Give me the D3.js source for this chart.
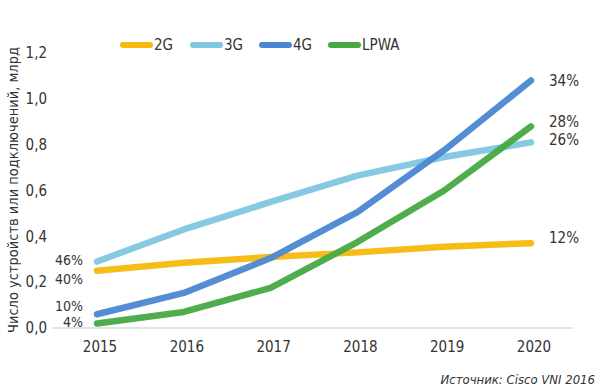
<!DOCTYPE html>
<html>
<head>
<meta charset="utf-8">
<script src="https://cdn.jsdelivr.net/npm/d3@7"></script>
<style>
  body { margin: 0; background: #fff; }
  svg text { font-family: "Liberation Sans Narrow", "DejaVu Sans Condensed", Arial, sans-serif; font-stretch: condensed; fill: #333; }
</style>
</head>
<body>
<div id="chart"></div>
<script>
// data
var years = [2015, 2016, 2017, 2018, 2019, 2020];
var yTicks = [0, 0.2, 0.4, 0.6, 0.8, 1.0, 1.2];
var names = ["2G", "3G", "4G", "LPWA"];
var colors = ["#f6b90c", "#80c6e2", "#4b87d2", "#46a943"];
var v2G = [0.25, 0.285, 0.31, 0.33, 0.355, 0.37];
var v3G = [0.29, 0.43, 0.55, 0.665, 0.746, 0.81];
var v4G = [0.06, 0.153, 0.305, 0.506, 0.776, 1.08];
var vLPWA = [0.02, 0.07, 0.175, 0.375, 0.60, 0.88];
var startPct = ["40%", "46%", "10%", "4%"];
var endPct = ["12%", "26%", "34%", "28%"];

var width = 607, height = 391;
var svg = d3.select("#chart").append("svg")
    .attr("width", width)
    .attr("height", height);

var x = d3.scaleLinear().domain([2015, 2020]).range([97, 531]);
var y = d3.scaleLinear().domain([0, 1.2]).range([328, 53]);

var series = [v2G, v3G, v4G, vLPWA];

// baseline
svg.append("line")
    .attr("x1", 52).attr("x2", 573)
    .attr("y1", y(0)).attr("y2", y(0))
    .attr("stroke", "#c8c8c8").attr("stroke-width", 1.2);

// y tick labels
svg.selectAll(".ytick")
    .data(yTicks)
    .enter().append("text")
    .attr("x", 47)
    .attr("y", function(d) { return y(d); })
    .attr("dy", "0.35em")
    .attr("text-anchor", "end")
    .style("font-size", "15px")
    .text(function(d) { return d.toFixed(1).replace(".", ","); });

// x tick labels
svg.selectAll(".xtick")
    .data(years)
    .enter().append("text")
    .attr("x", function(d) { return x(d) + 3; })
    .attr("y", 352)
    .attr("text-anchor", "middle")
    .style("font-size", "15px")
    .text(function(d) { return d; });

// y axis title
svg.append("text")
    .attr("transform", "translate(18,190) rotate(-90)")
    .attr("text-anchor", "middle")
    .style("font-size", "14.5px")
    .text("Число устройств или подключений, млрд");

var line = d3.line()
    .x(function(d, i) { return x(years[i]); })
    .y(function(d) { return y(d); });

// draw 2G, 3G, 4G, LPWA in order
svg.selectAll(".series")
    .data(series)
    .enter().append("path")
    .attr("d", line)
    .attr("fill", "none")
    .attr("stroke", function(d, i) { return colors[i]; })
    .attr("stroke-width", 6.5)
    .attr("stroke-linecap", "round")
    .attr("stroke-linejoin", "round")
    .attr("opacity", 0.95);

// left percent labels (offsets so they don't collide)
var leftDy = [8, -1, -8, -1];
svg.selectAll(".lp")
    .data(series)
    .enter().append("text")
    .attr("x", 83)
    .attr("y", function(d, i) { return y(d[0]) + leftDy[i]; })
    .attr("dy", "0.35em")
    .attr("text-anchor", "end")
    .style("font-size", "14px")
    .text(function(d, i) { return startPct[i]; });

// right percent labels
var rightDy = [-5, -3, 0, -5];
svg.selectAll(".rp")
    .data(series)
    .enter().append("text")
    .attr("x", 549)
    .attr("y", function(d, i) { return y(d[5]) + rightDy[i]; })
    .attr("dy", "0.35em")
    .style("font-size", "15px")
    .text(function(d, i) { return endPct[i]; });

// legend
var legendX = [123, 193, 262, 331];
var leg = svg.selectAll(".leg")
    .data(names)
    .enter().append("g")
    .attr("transform", function(d, i) { return "translate(" + legendX[i] + ",45)"; });
leg.append("line")
    .attr("x1", 0).attr("x2", 27)
    .attr("stroke", function(d, i) { return colors[i]; })
    .attr("stroke-width", 6)
    .attr("stroke-linecap", "round");
leg.append("text")
    .attr("x", 31)
    .attr("dy", "0.35em")
    .style("font-size", "15px")
    .text(function(d) { return d; });

// source note
svg.append("text")
    .attr("x", 595)
    .attr("y", 384)
    .attr("text-anchor", "end")
    .style("font-size", "13px")
    .style("font-style", "italic")
    .text("Источник: Cisco VNI 2016");
</script>
</body>
</html>
